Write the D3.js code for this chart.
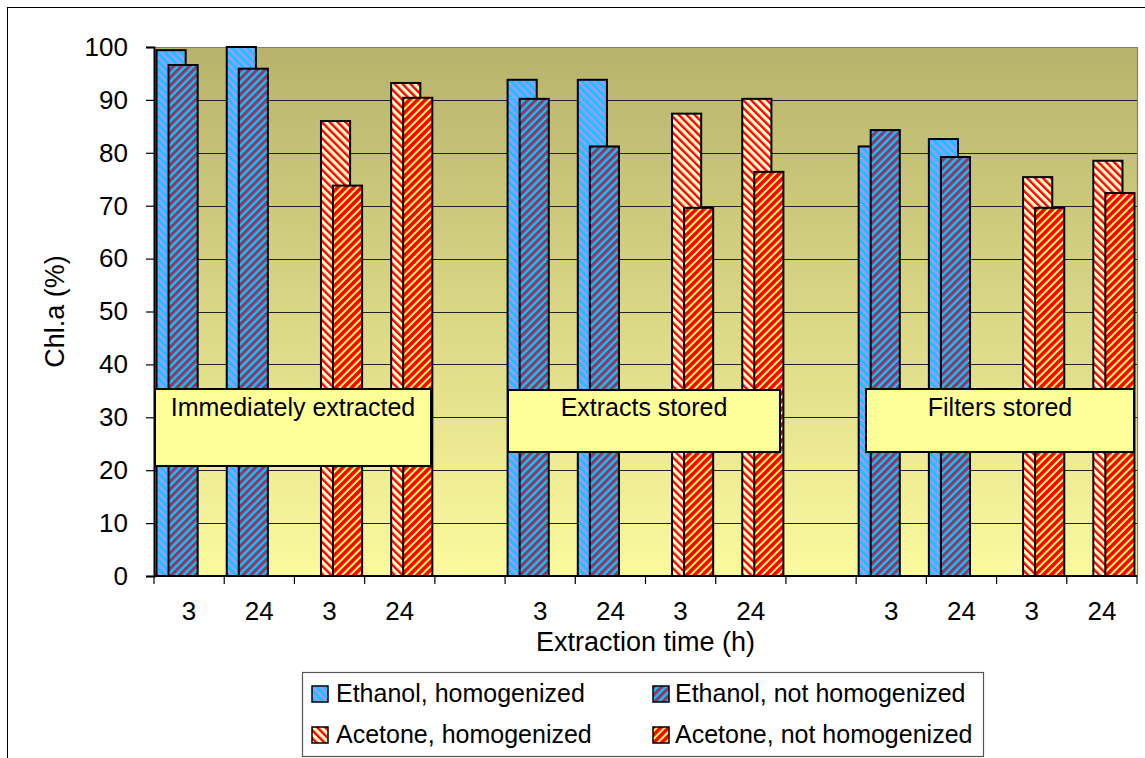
<!DOCTYPE html>
<html>
<head>
<meta charset="utf-8">
<script src="https://cdn.jsdelivr.net/npm/d3@7/dist/d3.min.js"></script>
<style>
  html, body { margin: 0; padding: 0; background: #fff; }
  svg { display: block; font-family: "Liberation Sans", Arial, sans-serif; }
</style>
</head>
<body>
<svg id="chart" width="1145" height="758"></svg>
<script>
// Extraction time labels for the 14 category slots (blank slots separate the storage groups)
const timeLabels = ["3", "24", "3", "24", "", "3", "24", "3", "24", "", "3", "24", "3", "24"];

// Storage treatment captions
const groupNames = ["Immediately extracted", "Extracts stored", "Filters stored"];

// Series names
const seriesNames = [
  "Ethanol, homogenized",
  "Ethanol, not homogenized",
  "Acetone, homogenized",
  "Acetone, not homogenized"
];

// Chl.a recovery (%) per category slot; null where the series has no bar
const ethanolHomogenized    = [99.4, 100.0, null, null, null, 93.8, 93.8, null, null, null, 81.2, 82.6, null, null];
const ethanolNotHomogenized = [96.6, 95.9, null, null, null, 90.2, 81.2, null, null, null, 84.3, 79.2, null, null];
const acetoneHomogenized    = [null, null, 86.0, 93.2, null, null, null, 87.4, 90.2, null, null, null, 75.4, 78.5];
const acetoneNotHomogenized = [null, null, 73.8, 90.4, null, null, null, 69.6, 76.4, null, null, null, 69.6, 72.4];

const yTicks = [0, 10, 20, 30, 40, 50, 60, 70, 80, 90, 100];

const seriesValues = [ethanolHomogenized, ethanolNotHomogenized, acetoneHomogenized, acetoneNotHomogenized];

const svg = d3.select("#chart");
const plot = { left: 154, right: 1137, top: 47, bottom: 576 };

// ---- fill patterns ----
const defs = svg.append("defs");
const grad = defs.append("linearGradient")
  .attr("id", "plotBg").attr("x1", 0).attr("y1", 0).attr("x2", 0).attr("y2", 1);
grad.append("stop").attr("offset", "0%").attr("stop-color", "#b7b36c");
grad.append("stop").attr("offset", "100%").attr("stop-color", "#fcfa9e");

const patternStyles = [
  { id: "pEthHom", bg: "#9999ff", fg: "#00ccff", angle: -45, fgw: 2.5 },
  { id: "pEthNot", bg: "#00ccff", fg: "#993366", angle: 45,  fgw: 3.2 },
  { id: "pAceHom", bg: "#ffffcc", fg: "#ff0000", angle: -45, fgw: 2.4 },
  { id: "pAceNot", bg: "#ffff66", fg: "#ff0000", angle: 45,  fgw: 3.6 }
];
patternStyles.forEach(p => {
  const pat = defs.append("pattern")
    .attr("id", p.id)
    .attr("patternUnits", "userSpaceOnUse")
    .attr("width", 5.6).attr("height", 5.6)
    .attr("patternTransform", `rotate(${p.angle})`);
  pat.append("rect").attr("width", 5.6).attr("height", 5.6).attr("fill", p.bg);
  pat.append("rect").attr("width", p.fgw).attr("height", 5.6).attr("fill", p.fg);
});

// ---- outer chart frame ----
svg.append("rect")
  .attr("x", 7.5).attr("y", 7.5).attr("width", 1160).attr("height", 780)
  .attr("fill", "none").attr("stroke", "#000").attr("stroke-width", 1);

// ---- scales ----
const x = d3.scaleBand()
  .domain(d3.range(timeLabels.length))
  .range([plot.left, plot.right])
  .padding(0);

const y = d3.scaleLinear().domain([0, 100]).range([plot.bottom, plot.top]);

// overlapped clustered bars: four series slots inside each category
const bw = x.bandwidth();
const barWidth = bw * 0.415;
const seriesStep = bw * 0.171;
const clusterStart = (bw - (3 * seriesStep + barWidth)) / 2;
const seriesOffset = i => clusterStart + i * seriesStep;

// ---- plot background ----
svg.append("rect")
  .attr("x", plot.left).attr("y", plot.top)
  .attr("width", plot.right - plot.left).attr("height", plot.bottom - plot.top)
  .attr("fill", "url(#plotBg)");

// top and right plot borders
svg.append("path")
  .attr("d", `M${plot.left},${plot.top + 0.5}H${plot.right + 0.5}V${plot.bottom}`)
  .attr("fill", "none").attr("stroke", "#808080").attr("stroke-width", 1.2);

// ---- gridlines ----
svg.append("g")
  .selectAll("line")
  .data(yTicks.filter(t => t > 0 && t < 100))
  .join("line")
  .attr("x1", plot.left).attr("x2", plot.right)
  .attr("y1", d => Math.round(y(d)) + 0.5).attr("y2", d => Math.round(y(d)) + 0.5)
  .attr("stroke", "#222").attr("stroke-width", 1.1);

// ---- bars ----
const fills = patternStyles.map(p => `url(#${p.id})`);
seriesValues.forEach((vals, si) => {
  svg.append("g")
    .selectAll("rect")
    .data(vals.map((v, i) => ({ i, v })).filter(d => d.v !== null))
    .join("rect")
    .attr("x", d => x(d.i) + seriesOffset(si))
    .attr("y", d => y(d.v))
    .attr("width", barWidth)
    .attr("height", d => y(0) - y(d.v))
    .attr("fill", fills[si])
    .attr("stroke", "#000")
    .attr("stroke-width", 2);
});

// ---- axes ----
const yAxis = d3.axisLeft(y).tickValues(yTicks).tickSize(8).tickPadding(18).tickFormat(d3.format("d"));
const gy = svg.append("g").attr("transform", `translate(${plot.left},0)`).call(yAxis);
gy.select(".domain").attr("stroke", "#000").attr("stroke-width", 2);
gy.selectAll(".tick line").attr("stroke", "#000").attr("stroke-width", 1.2);
gy.selectAll(".tick text")
  .attr("font-size", 26).attr("fill", "#000")
  .attr("font-family", "Liberation Sans, Arial, sans-serif");

// x ticks sit on category boundaries; labels at category centres
const gx = svg.append("g").attr("transform", `translate(0,${plot.bottom})`);
gx.append("line")
  .attr("x1", plot.left).attr("x2", plot.right)
  .attr("stroke", "#000").attr("stroke-width", 2);
gx.selectAll("line.tick")
  .data(d3.range(timeLabels.length + 1))
  .join("line")
  .attr("class", "tick")
  .attr("x1", i => i < timeLabels.length ? x(i) : plot.right)
  .attr("x2", i => i < timeLabels.length ? x(i) : plot.right)
  .attr("y1", 0).attr("y2", 8)
  .attr("stroke", "#000").attr("stroke-width", 1.2);
gx.selectAll("text")
  .data(timeLabels.map((t, i) => ({ t, i })))
  .join("text")
  .attr("x", d => x(d.i) + bw / 2)
  .attr("y", 44)
  .attr("text-anchor", "middle")
  .attr("font-size", 26)
  .text(d => d.t);

// axis titles
svg.append("text")
  .attr("x", (plot.left + plot.right) / 2)
  .attr("y", 651)
  .attr("text-anchor", "middle")
  .attr("font-size", 27)
  .text("Extraction time (h)");

svg.append("text")
  .attr("transform", `translate(64,${(plot.top + plot.bottom) / 2}) rotate(-90)`)
  .attr("text-anchor", "middle")
  .attr("font-size", 27)
  .text("Chl.a (%)");

// ---- storage treatment captions ----
const captionBoxes = [
  { name: groupNames[0], x0: 155, x1: 431, y0: 389, y1: 466 },
  { name: groupNames[1], x0: 508, x1: 780, y0: 390, y1: 452 },
  { name: groupNames[2], x0: 866, x1: 1134, y0: 389, y1: 452 }
];
const cap = svg.append("g").selectAll("g").data(captionBoxes).join("g");
cap.append("rect")
  .attr("x", d => d.x0).attr("y", d => d.y0)
  .attr("width", d => d.x1 - d.x0).attr("height", d => d.y1 - d.y0)
  .attr("fill", "#ffff99").attr("stroke", "#000").attr("stroke-width", 2);
cap.append("text")
  .attr("x", d => (d.x0 + d.x1) / 2)
  .attr("y", 416)
  .attr("text-anchor", "middle")
  .attr("font-size", 25)
  .text(d => d.name);

// ---- legend ----
const legend = svg.append("g");
legend.append("rect")
  .attr("x", 302.5).attr("y", 672.5).attr("width", 681).attr("height", 84)
  .attr("fill", "#fff").attr("stroke", "#555").attr("stroke-width", 1.2);
const legendPos = [
  { ix: 312, tx: 336, ty: 702 },
  { ix: 653, tx: 675, ty: 702 },
  { ix: 312, tx: 336, ty: 743 },
  { ix: 653, tx: 675, ty: 743 }
];
const li = legend.selectAll("g").data(seriesNames).join("g");
li.append("rect")
  .attr("x", (d, i) => legendPos[i].ix)
  .attr("y", (d, i) => legendPos[i].ty - 16)
  .attr("width", 16).attr("height", 16)
  .attr("fill", (d, i) => fills[i])
  .attr("stroke", "#000").attr("stroke-width", 1.5);
li.append("text")
  .attr("x", (d, i) => legendPos[i].tx)
  .attr("y", (d, i) => legendPos[i].ty)
  .attr("font-size", 25)
  .text(d => d);
</script>
</body>
</html>
